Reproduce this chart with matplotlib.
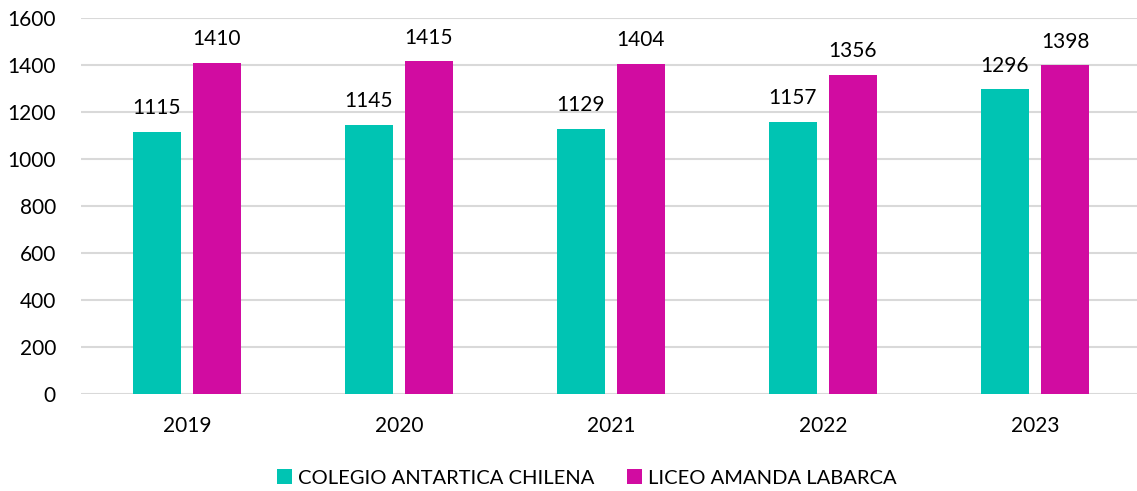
import numpy as np
import matplotlib.pyplot as plt

plt.rcParams['font.family'] = ['Lato', 'DejaVu Sans']

years = ['2019', '2020', '2021', '2022', '2023']
colegio = [1115, 1145, 1129, 1157, 1296]
liceo = [1410, 1415, 1404, 1356, 1398]
series_names = ['COLEGIO ANTARTICA CHILENA', 'LICEO AMANDA LABARCA']
colors = ['#00C4B3', '#D10CA1']

fig = plt.figure(figsize=(11.37, 4.91), dpi=100)
ax = fig.add_axes([81 / 1137, 1 - 394 / 491, 1060 / 1137, 376 / 491])

x = np.arange(len(years))
w = 0.226
off = 0.1415
b1 = ax.bar(x - off, colegio, w, color=colors[0], label=series_names[0], zorder=3)
b2 = ax.bar(x + off, liceo, w, color=colors[1], label=series_names[1], zorder=3)

for bars in (b1, b2):
    for r in bars:
        ax.annotate(f'{int(r.get_height())}', (r.get_x() + r.get_width() / 2, r.get_height()),
                    xytext=(0, 10), textcoords='offset points', ha='center', va='bottom',
                    fontsize=15, color='black')

ax.set_xlim(-0.5, len(years) - 0.5)
ax.set_ylim(0, 1600)
ax.set_yticks(range(0, 1601, 200))
ax.set_xticks(x)
ax.set_xticklabels(years)
ax.grid(axis='y', color='#D9D9D9', linewidth=1.5, zorder=0)
ax.tick_params(axis='both', length=0, labelsize=15)
ax.tick_params(axis='y', pad=18)
ax.tick_params(axis='x', pad=16)
for s in ax.spines.values():
    s.set_visible(False)

fig.legend(handles=[b1, b2], loc='center', bbox_to_anchor=(587 / 1137, 1 - 478 / 491),
           ncol=2, frameon=False, fontsize=14.5, handlelength=0.75, handleheight=0.75,
           handletextpad=0.3, columnspacing=1.6)

fig.savefig('out.png', dpi=100)
